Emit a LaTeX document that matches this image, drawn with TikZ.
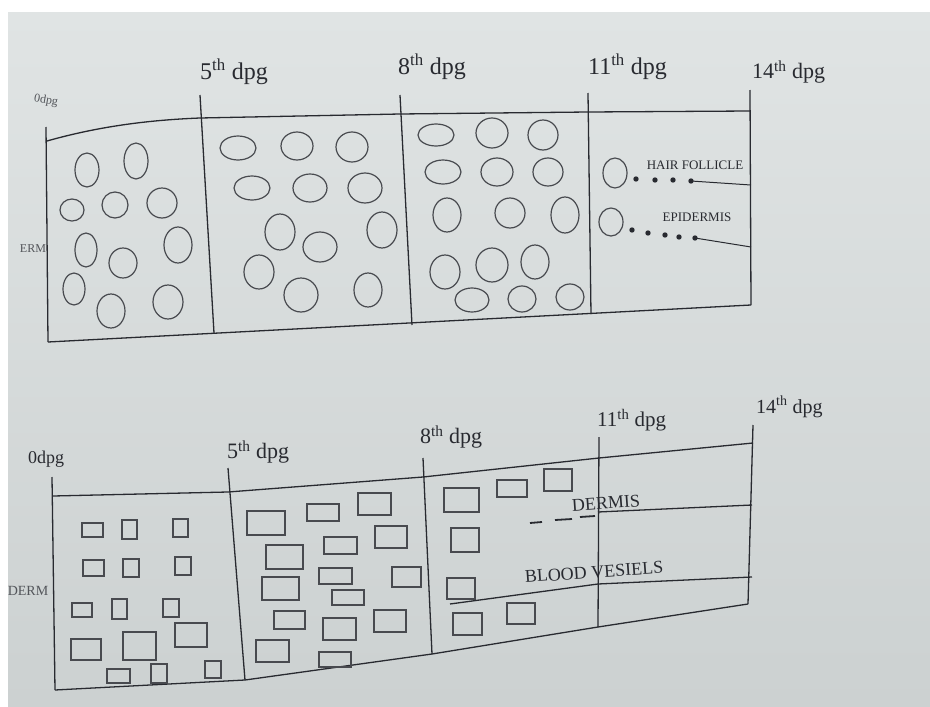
\documentclass[tikz,border=0pt]{standalone}
\usepackage{fontspec}
\setmainfont{Liberation Serif}
\definecolor{inkc}{RGB}{40,42,48}
\definecolor{papertop}{RGB}{224,228,228}
\definecolor{paperbot}{RGB}{204,209,209}
\begin{document}
\begin{tikzpicture}[x=1pt,y=-1pt,
  frame/.style={draw=inkc,line width=1.3pt,line join=round},
  cell/.style={draw=inkc!85,line width=1.2pt},
  lbl/.style={text=inkc,inner sep=0pt,anchor=west,font=\fontsize{24}{26}\selectfont},
  slbl/.style={text=inkc,inner sep=0pt,font=\fontsize{18}{20}\selectfont},
  tlbl/.style={text=inkc,inner sep=0pt,font=\fontsize{13}{14}\selectfont},
  dotc/.style={fill=inkc}]
\useasboundingbox (0,0) rectangle (930,707);
\fill[white] (0,0) rectangle (930,707);
\shade[top color=papertop,bottom color=paperbot] (8,12) rectangle (930,707);

% ---------------- top diagram ----------------
\coordinate (tl0) at (46,127);  \coordinate (bl0) at (48,342);
\coordinate (t5) at (200,95);   \coordinate (b5) at (214,333);
\coordinate (t8) at (400,95);   \coordinate (b8) at (412,325);
\coordinate (t11) at (588,93);  \coordinate (b11) at (591,314);
\coordinate (t14) at (750,90);  \coordinate (b14) at (751,305);
\draw[frame] (tl0) -- (bl0);
\draw[frame] (t5) -- (b5);
\draw[frame] (t8) -- (b8);
\draw[frame] (t11) -- (b11);
\draw[frame] (t14) -- (b14);
\draw[frame] (47,141) .. controls (100,126) and (150,120) .. (200,118) -- (400,114) -- (588,112) -- (750,111);
\draw[frame] (bl0) -- (b14);

\node[lbl] (l5a) at (200,72) {5\textsuperscript{th} dpg};
\node[lbl] (l8a) at (398,67) {8\textsuperscript{th} dpg};
\node[lbl] (l11a) at (588,67) {11\textsuperscript{th} dpg};
\node[lbl,font=\fontsize{22}{24}\selectfont] (l14a) at (752,72) {14\textsuperscript{th} dpg};
\node[text=inkc!80,inner sep=0pt,font=\fontsize{12}{13}\selectfont,rotate=-10] (l0a) at (46,101) {0dpg};
\node[text=inkc!80,inner sep=0pt,font=\fontsize{12}{13}\selectfont] (erma) at (33,249) {ERM};

\foreach \cx/\cy/\rx/\ry in {
  87/170/12/17, 136/161/12/18, 72/210/12/11, 115/205/13/13, 162/203/15/15,
  86/250/11/17, 123/263/14/15, 178/245/14/18, 74/289/11/16, 111/311/14/17, 168/302/15/17,
  238/148/18/12, 297/146/16/14, 352/147/16/15, 252/188/18/12, 310/188/17/14, 365/188/17/15,
  280/232/15/18, 320/247/17/15, 382/230/15/18, 259/272/15/17, 301/295/17/17, 368/290/14/17,
  436/135/18/11, 492/133/16/15, 543/135/15/15, 443/172/18/12, 497/172/16/14, 548/172/15/14,
  447/215/14/17, 510/213/15/15, 565/215/14/18, 445/272/15/17, 492/265/16/17, 535/262/14/17,
  472/300/17/12, 522/299/14/13, 570/297/14/13,
  615/173/12/15, 611/222/12/14}
  \draw[cell] (\cx,\cy) ellipse [x radius=\rx, y radius=\ry];

% hair follicle leader
\foreach \dx/\dy in {636/179, 655/180, 673/180}
  \fill[dotc] (\dx,\dy) circle [radius=2.7];
\coordinate (hf) at (691,181);
\coordinate (hfe) at (751,185);
\fill[dotc] (hf) circle [radius=2.7];
\draw[frame,line width=1pt] (hf) -- (hfe);
\node[tlbl] (hft) at (695,165) {HAIR FOLLICLE};
% epidermis leader
\foreach \dx/\dy in {632/230, 648/233, 665/235, 679/237}
  \fill[dotc] (\dx,\dy) circle [radius=2.7];
\coordinate (ep) at (695,238);
\coordinate (epe) at (751,247);
\fill[dotc] (ep) circle [radius=2.7];
\draw[frame,line width=1pt] (ep) -- (epe);
\node[tlbl] (ept) at (697,217) {EPIDERMIS};

% ---------------- bottom diagram ----------------
\coordinate (u0) at (52,477);   \coordinate (v0) at (55,690);
\coordinate (u5) at (228,468);  \coordinate (v5) at (245,680);
\coordinate (u8) at (423,458);  \coordinate (v8) at (432,654);
\coordinate (u11) at (599,437); \coordinate (v11) at (598,627);
\coordinate (u14) at (753,425); \coordinate (v14) at (748,604);
\draw[frame] (u0) -- (v0);
\draw[frame] (u5) -- (v5);
\draw[frame] (u8) -- (v8);
\draw[frame] (u11) -- (v11);
\draw[frame] (u14) -- (v14);
\draw[frame] (53,496) -- (228,492) -- (423,477) -- (599,458) -- (753,443);
\draw[frame] (v0) -- (v5) -- (v8) -- (v11) -- (v14);

\node[slbl,anchor=west] (l0b) at (28,459) {0dpg};
\node[lbl,anchor=west,font=\fontsize{22}{24}\selectfont] (l5b) at (227,452) {5\textsuperscript{th} dpg};
\node[lbl,anchor=west,font=\fontsize{22}{24}\selectfont] (l8b) at (420,437) {8\textsuperscript{th} dpg};
\node[lbl,anchor=west,font=\fontsize{21}{23}\selectfont] (l11b) at (597,420) {11\textsuperscript{th} dpg};
\node[lbl,anchor=west,font=\fontsize{20}{22}\selectfont] (l14b) at (756,407) {14\textsuperscript{th} dpg};
\node[text=inkc!80,inner sep=0pt,font=\fontsize{14}{15}\selectfont] (ermb) at (28,591) {DERM};

\foreach \ax/\ay/\bx/\by in {
  82/523/103/537, 122/520/137/539, 173/519/188/537,
  83/560/104/576, 123/559/139/577, 175/557/191/575,
  72/603/92/617, 112/599/127/619, 163/599/179/617,
  71/639/101/660, 123/632/156/660, 175/623/207/647,
  107/669/130/683, 151/664/167/683, 205/661/221/678,
  247/511/285/535, 307/504/339/521, 358/493/391/515,
  266/545/303/569, 324/537/357/554, 375/526/407/548,
  262/577/299/600, 319/568/352/584, 392/567/421/587,
  332/590/364/605, 274/611/305/629, 323/618/356/640, 374/610/406/632,
  256/640/289/662, 319/652/351/667,
  444/488/479/512, 497/480/527/497, 544/469/572/491,
  451/528/479/552, 447/578/475/599, 453/613/482/635, 507/603/535/624}
  \draw[cell] (\ax,\ay) rectangle (\bx,\by);

% dermis line and dashes
\coordinate (dm1) at (598,512);
\coordinate (dm2) at (752,505);
\draw[frame] (dm1) -- (dm2);
\draw[frame,line width=1.8pt] (530,523) -- (542,522);
\draw[frame,line width=1.8pt] (555,520) -- (572,519);
\draw[frame,line width=1.8pt] (580,517) -- (595,516);
\node[slbl,rotate=4] (dmt) at (606,503) {DERMIS};
% blood vessels line
\coordinate (bv1) at (450,604);
\coordinate (bv2) at (598,584);
\coordinate (bv3) at (752,577);
\draw[frame] (bv1) -- (bv2) -- (bv3);
\node[slbl,rotate=4] (bvt) at (594,572) {BLOOD VESIELS};
\end{tikzpicture}
\end{document}
